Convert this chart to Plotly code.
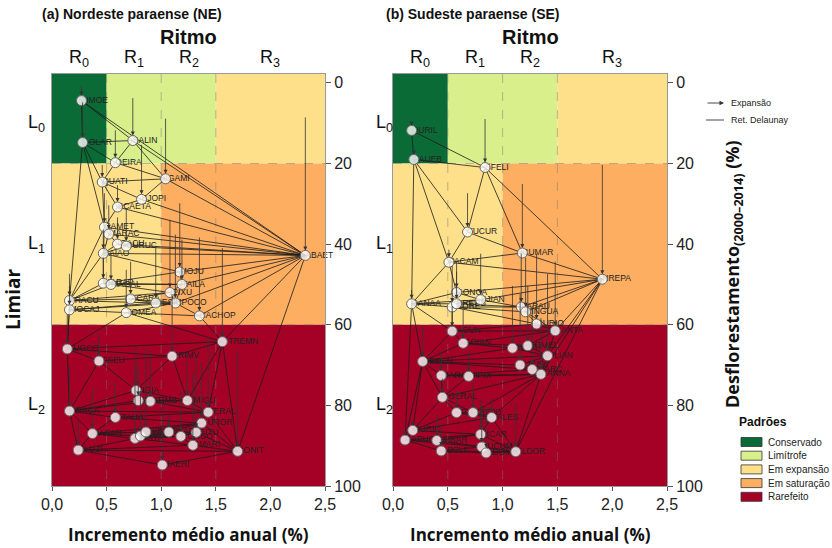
import plotly.graph_objects as go

# ---------------- DATA ----------------
# Panel (a) Nordeste paraense
names_a = ["LIMOE", "COLAR", "SALIN", "OEIRA", "QUATI", "IGAMI", "SJOPI", "SCAETA",
           "CAMET", "MARAC", "IGACU", "CURUC", "BAIAO", "ABAET", "MOJU", "TAILA",
           "MARAP", "MAGAL", "IPIXU", "ACARA", "NESPI", "CPOCO", "TRACU", "MOCAJ",
           "TOMEA", "CACHOP",
           "STREMN", "AUGCO", "VISEU", "PRIMV", "VIGIA", "PEIXE", "NTIMB", "SMIGU",
           "BRAGA", "TERAL", "STAUA", "AUROR", "CAPAN", "CASTA", "INHAN", "SFRAN",
           "SISAB", "CONCO", "IRITU", "SMARI", "BONIT", "SLUZI", "MAERI"]
inc_a = [0.27, 0.28, 0.74, 0.58, 0.46, 1.04, 0.82, 0.60,
         0.48, 0.52, 0.60, 0.68, 0.47, 2.32, 1.17, 1.19,
         0.47, 0.54, 1.08, 0.72, 0.95, 1.13, 0.16, 0.16,
         0.68, 1.35,
         1.56, 0.14, 0.43, 1.10, 0.77, 0.79, 0.90, 1.24,
         0.16, 1.43, 0.58, 1.37, 0.37, 0.76, 0.81, 0.86,
         1.07, 1.18, 1.32, 1.29, 1.70, 0.24, 1.01]
def14_a = [4.4, 14.8, 14.3, 19.8, 24.6, 23.8, 28.9, 30.8,
           35.8, 37.5, 40.0, 40.5, 42.3, 42.8, 46.9, 50.0,
           49.7, 50.0, 52.0, 53.6, 54.6, 54.6, 54.0, 56.3,
           57.0, 57.8,
           64.2, 66.0, 69.0, 67.8, 76.3, 78.8, 79.0, 78.8,
           81.4, 81.7, 83.0, 84.4, 87.0, 88.2, 87.6, 86.6,
           86.6, 87.7, 86.7, 89.9, 91.4, 91.1, 94.8]
def00_a = [0.5, 4.5, 3.4, 11.4, 20.0, 8.5, 15.0, 25.0,
           27.0, 30.0, 33.0, 31.0, 36.0, 8.2, 29.5, 38.5,
           43.0, 42.0, 33.6, 44.0, 40.6, 37.3, 47.0, 50.0,
           46.0, 38.0,
           40.6, 57.0, 61.7, 52.0, 65.0, 70.0, 66.0, 67.0,
           70.0, 62.5, 74.0, 69.0, 75.5, 69.4, 76.0, 65.4,
           82.0, 76.0, 67.8, 71.5, 66.0, 83.5, 79.0]

# Panel (b) Sudeste paraense
names_b = ["OURIL", "PAUEB", "SFELI", "TUCUR", "CUMAR", "NREPA", "PACAM", "CONCA",
           "SJIAN", "FLORE", "BREUB", "CANAA", "PARAU", "XINGUA", "CURIO", "SANTA",
           "JACUN", "GOIAN", "RMARI", "DOMEL", "ULIAN", "BJESU", "PDARC", "BANNA",
           "REDEN", "MARAB", "NIPIX", "SGERAL", "ITUPI", "BREJO", "PALES", "OURIC",
           "SAPUC", "SMBAR", "PICAR", "TUCUM", "SDOMA", "ELDOR", "ABELF"]
inc_b = [0.17, 0.19, 0.84, 0.68, 1.18, 1.91, 0.51, 0.58,
         0.80, 0.54, 0.58, 0.17, 1.17, 1.21, 1.31, 1.48,
         0.54, 0.64, 1.09, 1.23, 1.41, 1.16, 1.27, 1.35,
         0.27, 0.44, 0.69, 0.45, 0.58, 0.73, 0.90, 0.18,
         0.11, 0.40, 0.80, 0.81, 0.85, 1.12, 0.44]
def14_b = [11.8, 19.0, 21.0, 37.0, 42.2, 48.7, 44.5, 52.0,
           53.8, 55.6, 54.8, 54.8, 55.6, 56.8, 59.8, 61.5,
           61.6, 64.6, 65.8, 65.2, 67.7, 70.0, 71.1, 72.3,
           69.1, 72.6, 72.8, 78.0, 81.8, 81.8, 83.0, 86.2,
           88.6, 88.7, 87.2, 90.3, 91.8, 91.5, 91.3]
def00_b = [9.6, 16.3, 8.6, 27.0, 24.7, 20.0, 41.0, 46.5,
           42.0, 45.0, 44.0, 51.0, 42.0, 43.0, 42.0, 44.0,
           55.0, 55.0, 50.0, 50.0, 47.0, 52.0, 55.0, 58.0,
           60.0, 66.0, 66.0, 73.0, 76.0, 74.0, 78.0, 84.0,
           86.0, 82.0, 78.0, 80.0, 80.0, 79.0, 84.0]

# Zones: (x0, x1, y0, y1, pattern index)
zone_x0 = [0.0, 0.5, 1.5, 0.0, 1.0, 0.0]
zone_x1 = [0.5, 1.5, 2.5, 1.0, 2.5, 2.5]
zone_y0 = [-2.2, -2.2, -2.2, 20, 20, 60]
zone_y1 = [20, 20, 20, 60, 60, 100]
zone_pat = [0, 1, 2, 2, 3, 4]

pattern_names = ["Conservado", "Limítrofe", "Em expansão", "Em saturação", "Rarefeito"]
pattern_colors = ["#0b6b36", "#d9ef8b", "#fee08b", "#fdae61", "#a50026"]

rate_labels = ["R<sub>0</sub>", "R<sub>1</sub>", "R<sub>2</sub>", "R<sub>3</sub>"]
rate_pos = [0.25, 0.75, 1.25, 2.0]
lim_labels = ["L<sub>0</sub>", "L<sub>1</sub>", "L<sub>2</sub>"]
lim_pos = [10, 40, 80]
dash_x = [0.5, 1.0, 1.5]
dash_y = [20, 60]

x_ticks = [0.0, 0.5, 1.0, 1.5, 2.0, 2.5]
x_ticktext = ["0,0", "0,5", "1,0", "1,5", "2,0", "2,5"]
y_ticks = [0, 20, 40, 60, 80, 100]

W, H = 832, 548


# -------------- Delaunay (Bowyer-Watson) --------------
def circum(p, a, b, c):
    ax, ay = a; bx, by = b; cx, cy = c
    d = 2 * (ax * (by - cy) + bx * (cy - ay) + cx * (ay - by))
    if abs(d) < 1e-12:
        return True
    ux = ((ax*ax + ay*ay) * (by - cy) + (bx*bx + by*by) * (cy - ay) + (cx*cx + cy*cy) * (ay - by)) / d
    uy = ((ax*ax + ay*ay) * (cx - bx) + (bx*bx + by*by) * (ax - cx) + (cx*cx + cy*cy) * (bx - ax)) / d
    r2 = (ax - ux) ** 2 + (ay - uy) ** 2
    return (p[0] - ux) ** 2 + (p[1] - uy) ** 2 < r2


def delaunay_edges(xs, ys):
    pts = list(zip(xs, ys))
    n = len(pts)
    minx, maxx, miny, maxy = min(xs), max(xs), min(ys), max(ys)
    d = max(maxx - minx, maxy - miny)
    mx, my = (minx + maxx) / 2, (miny + maxy) / 2
    pts += [(mx - 50 * d, my - 50 * d), (mx, my + 50 * d), (mx + 50 * d, my - 50 * d)]
    tris = [(n, n + 1, n + 2)]
    for i in range(n):
        p = pts[i]
        bad = [t for t in tris if circum(p, pts[t[0]], pts[t[1]], pts[t[2]])]
        cnt = {}
        for t in bad:
            for e in ((t[0], t[1]), (t[1], t[2]), (t[2], t[0])):
                k = tuple(sorted(e))
                cnt[k] = cnt.get(k, 0) + 1
        tris = [t for t in tris if t not in bad]
        for e, c in cnt.items():
            if c == 1:
                tris.append((e[0], e[1], i))
    edges = set()
    for t in tris:
        if max(t) >= n:
            continue
        for e in ((t[0], t[1]), (t[1], t[2]), (t[2], t[0])):
            edges.add(tuple(sorted(e)))
    return sorted(edges)


fig = go.Figure()
shapes = []
annotations = []


def txt(x, y, text, size, family="Liberation Sans", xref="paper", yref="paper",
        xanchor="center", angle=0, color="#111"):
    return dict(x=x, y=y, xref=xref, yref=yref, text=text, showarrow=False,
                xanchor=xanchor, yanchor="middle", textangle=angle,
                font=dict(family=family, size=size, color=color))


panels = [
    ("x", "y", names_a, inc_a, def14_a, def00_a),
    ("x2", "y2", names_b, inc_b, def14_b, def00_b),
]

for xr, yr, names, xs, ys, y0s in panels:
    for x0, x1, ya, yb, pi in zip(zone_x0, zone_x1, zone_y0, zone_y1, zone_pat):
        shapes.append(dict(type="rect", xref=xr, yref=yr, x0=x0, x1=x1, y0=ya, y1=yb,
                           fillcolor=pattern_colors[pi], line=dict(width=0), layer="below"))
    for dx in dash_x:
        shapes.append(dict(type="line", xref=xr, yref=yr, x0=dx, x1=dx, y0=-2.2, y1=100,
                           line=dict(color="rgba(120,120,120,0.6)", width=0.8, dash="dash"), layer="below"))
    for dy in dash_y:
        shapes.append(dict(type="line", xref=xr, yref=yr, x0=0, x1=2.5, y0=dy, y1=dy,
                           line=dict(color="rgba(120,120,120,0.6)", width=0.8, dash="dash"), layer="below"))

    ex, ey = [], []
    for i, j in delaunay_edges(xs, ys):
        ex += [xs[i], xs[j], None]
        ey += [ys[i], ys[j], None]
    fig.add_trace(go.Scatter(x=ex, y=ey, mode="lines", xaxis=xr, yaxis=yr,
                             line=dict(color="#1a1a1a", width=0.8), hoverinfo="skip", showlegend=False))
    fig.add_trace(go.Scatter(x=xs, y=ys, mode="text", text=names, textposition="middle right",
                             xaxis=xr, yaxis=yr, cliponaxis=False,
                             textfont=dict(family="Liberation Sans", size=8.5, color="#222"),
                             hoverinfo="skip", showlegend=False))
    fig.add_trace(go.Scatter(x=xs, y=ys, mode="markers", xaxis=xr, yaxis=yr,
                             marker=dict(size=10, color="rgba(255,255,255,0.8)",
                                         line=dict(color="#666", width=1)),
                             text=names, showlegend=False))
    for x, y, y0 in zip(xs, ys, y0s):
        annotations.append(dict(x=x, y=y, ax=x, ay=y0, xref=xr, yref=yr, axref=xr, ayref=yr,
                                text="", showarrow=True, arrowhead=2, arrowsize=1.0,
                                arrowwidth=0.8, arrowcolor="#333", standoff=5))

# Axes
xdom = {"x": [52 / W, 325 / W], "x2": [393 / W, 667 / W]}
ydom = [1 - 486 / H, 1 - 74 / H]
axfont = dict(family="Liberation Sans", size=16, color="#222")

layout_axes = {}
for xr, yr in (("x", "y"), ("x2", "y2")):
    xk = "xaxis" if xr == "x" else "xaxis2"
    yk = "yaxis" if yr == "y" else "yaxis2"
    layout_axes[xk] = dict(domain=xdom[xr], range=[0, 2.5], anchor=yr, tickvals=x_ticks,
                           ticktext=x_ticktext, ticks="outside", ticklen=4, tickcolor="#555",
                           showgrid=False, zeroline=False, showline=True, linecolor="#999",
                           linewidth=1, mirror=True, tickfont=axfont, automargin=False)
    layout_axes[yk] = dict(domain=ydom, range=[100, -2.2], anchor=xr, side="right",
                           tickvals=y_ticks, ticks="outside", ticklen=5, tickcolor="#555",
                           showgrid=False, zeroline=False, showline=True, linecolor="#999",
                           linewidth=1, mirror=True, tickfont=axfont, automargin=False)

# Text annotations around panels
titles = ["(a) Nordeste paraense (NE)", "(b) Sudeste paraense (SE)"]
title_x = [40, 384]
for k, (xr, yr) in enumerate((("x", "y"), ("x2", "y2"))):
    annotations.append(txt(title_x[k] / W, 1 - 14 / H, "<b>" + titles[k] + "</b>", 14, xanchor="left"))
    annotations.append(txt(1.25, 1 - 37 / H, "<b>Ritmo</b>", 20, xref=xr))
    for lab, pos in zip(rate_labels, rate_pos):
        annotations.append(txt(pos, 1 - 58 / H, lab, 18, xref=xr))
    lx = 36 if k == 0 else 384
    for lab, pos in zip(lim_labels, lim_pos):
        annotations.append(txt(lx / W, pos, lab, 18, yref=yr))
    annotations.append(txt(1.25, 1 - 534 / H, "<b>Incremento médio anual (%)</b>", 17,
                           family="Open Sans", xref=xr))

annotations.append(txt(13 / W, 1 - 300 / H, "<b>Limiar</b>", 19, family="Open Sans", angle=-90))
annotations.append(txt(733 / W, 1 - 274 / H, "<b>Desflorestamento<sub>(2000–2014)</sub> (%)</b>", 18,
                       family="Open Sans", angle=-90))

# Legend: arrow / line
annotations.append(dict(x=724 / W, y=1 - 103 / H, ax=-18, ay=0, xref="paper", yref="paper",
                        text="", showarrow=True, arrowhead=2, arrowsize=1, arrowwidth=0.9, arrowcolor="#333"))
annotations.append(txt(729 / W, 1 - 103 / H, "Expansão", 9, xanchor="left", color="#222"))
shapes.append(dict(type="line", xref="paper", yref="paper", x0=706 / W, x1=724 / W,
                   y0=1 - 120 / H, y1=1 - 120 / H, line=dict(color="#333", width=0.9)))
annotations.append(txt(729 / W, 1 - 120 / H, "Ret. Delaunay", 9, xanchor="left", color="#222"))

# Legend: patterns
annotations.append(txt(763 / W, 1 - 422 / H, "<b>Padrões</b>", 12))
for i, (nm, col) in enumerate(zip(pattern_names, pattern_colors)):
    yc = 442 + i * 13.7
    shapes.append(dict(type="rect", xref="paper", yref="paper", x0=741 / W, x1=762 / W,
                       y0=1 - (yc + 4.5) / H, y1=1 - (yc - 4.5) / H, fillcolor=col,
                       line=dict(color="#333", width=0.8)))
    annotations.append(txt(766 / W, 1 - yc / H, nm, 10, xanchor="left", color="#222"))

fig.update_layout(width=W, height=H, margin=dict(l=0, r=0, t=0, b=0, autoexpand=False),
                  paper_bgcolor="white", plot_bgcolor="white", showlegend=False,
                  shapes=shapes, annotations=annotations, **layout_axes)

fig.write_html("out.html", config={"displayModeBar": False},
               post_script="document.body.style.margin='0px';document.body.style.overflow='hidden';")
